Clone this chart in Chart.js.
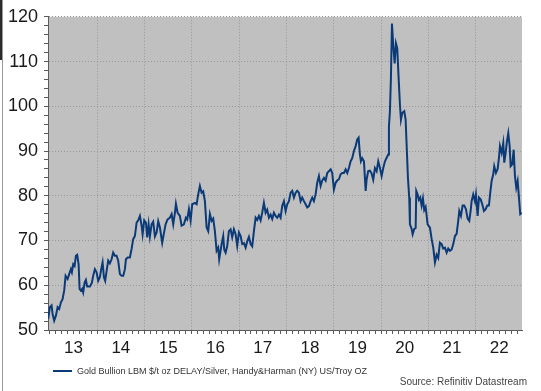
<!DOCTYPE html>
<html>
<head>
<meta charset="utf-8">
<script src="https://cdn.jsdelivr.net/npm/chart.js@4.4.1/dist/chart.umd.min.js"></script>
<style>
  html, body { margin: 0; padding: 0; background: #fff; }
  #wrap { position: relative; width: 541px; height: 391px; overflow: hidden; font-family: Arial, "Liberation Sans", sans-serif; }
  #chart { position: absolute; left: 0; top: 0; }
  .edge1 { position: absolute; left: 0; top: 0; width: 2px; height: 60px; background: #2b2b2b; }
  .edge2 { position: absolute; left: 2px; top: 0; width: 1px; height: 391px; background: #9a9a9a; }
  .legend { position: absolute; left: 53px; top: 365px; font-size: 9px; color: #333; white-space: nowrap; line-height: 12px; }
  .legend i { display: inline-block; width: 19px; height: 2px; background: #0b3a78; vertical-align: middle; margin-right: 5px; position: relative; top: -1px; }
  .source { position: absolute; right: 14px; top: 376px; font-size: 10px; color: #444; white-space: nowrap; line-height: 12px; }
</style>
</head>
<body>
<div id="wrap">
  <canvas id="chart" width="541" height="391"></canvas>
  <div class="edge1"></div>
  <div class="edge2"></div>
  <div class="legend"><i></i>Gold Bullion LBM $/t oz DELAY/Silver, Handy&amp;Harman (NY) US/Troy OZ</div>
  <div class="source">Source: Refinitiv Datastream</div>
</div>
<script>
// gold / silver price ratio, dates as decimal years
const dates = [
  2012.964, 2013.000, 2013.036, 2013.057, 2013.091, 2013.127, 2013.163, 2013.197, 2013.233, 2013.268,
  2013.302, 2013.332, 2013.374, 2013.408, 2013.444, 2013.465, 2013.493, 2013.522, 2013.550, 2013.577,
  2013.607, 2013.628, 2013.655, 2013.683, 2013.704, 2013.734, 2013.761, 2013.789, 2013.846, 2013.888,
  2013.915, 2013.951, 2013.987, 2014.021, 2014.057, 2014.085, 2014.114, 2014.142, 2014.169, 2014.199,
  2014.233, 2014.268, 2014.304, 2014.338, 2014.374, 2014.410, 2014.444, 2014.480, 2014.516, 2014.550,
  2014.586, 2014.607, 2014.643, 2014.691, 2014.727, 2014.761, 2014.797, 2014.833, 2014.867, 2014.903,
  2014.939, 2014.960, 2014.994, 2015.030, 2015.057, 2015.087, 2015.114, 2015.150, 2015.184, 2015.220,
  2015.256, 2015.290, 2015.326, 2015.374, 2015.410, 2015.446, 2015.488, 2015.537, 2015.573, 2015.607,
  2015.643, 2015.664, 2015.700, 2015.748, 2015.784, 2015.833, 2015.875, 2015.903, 2015.939, 2015.975,
  2016.009, 2016.066, 2016.102, 2016.135, 2016.171, 2016.207, 2016.241, 2016.277, 2016.313, 2016.347,
  2016.383, 2016.419, 2016.453, 2016.488, 2016.524, 2016.558, 2016.579, 2016.630, 2016.664, 2016.685,
  2016.715, 2016.748, 2016.784, 2016.820, 2016.854, 2016.890, 2016.926, 2016.960, 2016.996, 2017.032,
  2017.066, 2017.102, 2017.138, 2017.171, 2017.207, 2017.243, 2017.277, 2017.313, 2017.349, 2017.383,
  2017.419, 2017.455, 2017.488, 2017.524, 2017.560, 2017.594, 2017.630, 2017.666, 2017.700, 2017.736,
  2017.772, 2017.806, 2017.842, 2017.877, 2017.911, 2017.947, 2017.983, 2018.017, 2018.053, 2018.089,
  2018.123, 2018.159, 2018.195, 2018.228, 2018.264, 2018.300, 2018.334, 2018.370, 2018.406, 2018.440,
  2018.476, 2018.512, 2018.546, 2018.581, 2018.617, 2018.651, 2018.687, 2018.723, 2018.757, 2018.793,
  2018.829, 2018.863, 2018.899, 2018.935, 2018.968, 2019.004, 2019.040, 2019.074, 2019.110, 2019.146,
  2019.180, 2019.216, 2019.252, 2019.286, 2019.321, 2019.357, 2019.391, 2019.427, 2019.463, 2019.497,
  2019.526, 2019.554, 2019.575, 2019.603, 2019.639, 2019.675, 2019.696, 2019.729, 2019.765, 2019.801,
  2019.835, 2019.871, 2019.907, 2019.941, 2019.977, 2020.013, 2020.047, 2020.083, 2020.119, 2020.152,
  2020.167, 2020.188, 2020.209, 2020.231, 2020.258, 2020.288, 2020.315, 2020.343, 2020.372, 2020.400,
  2020.421, 2020.448, 2020.491, 2020.520, 2020.541, 2020.569, 2020.596, 2020.611, 2020.647, 2020.668,
  2020.702, 2020.732, 2020.745, 2020.774, 2020.801, 2020.829, 2020.858, 2020.886, 2020.913, 2020.943,
  2020.985, 2021.034, 2021.070, 2021.104, 2021.140, 2021.176, 2021.209, 2021.245, 2021.281, 2021.315,
  2021.351, 2021.387, 2021.421, 2021.457, 2021.493, 2021.527, 2021.563, 2021.598, 2021.632, 2021.654,
  2021.689, 2021.725, 2021.759, 2021.795, 2021.831, 2021.865, 2021.894, 2021.915, 2021.949, 2021.985,
  2022.006, 2022.042, 2022.070, 2022.106, 2022.140, 2022.176, 2022.212, 2022.245, 2022.281, 2022.309,
  2022.338, 2022.372, 2022.393, 2022.429, 2022.465, 2022.493, 2022.514, 2022.550, 2022.584, 2022.605,
  2022.634, 2022.662, 2022.690, 2022.719, 2022.740, 2022.774, 2022.804, 2022.831, 2022.859, 2022.888,
  2022.916, 2022.943, 2022.973
];
const ratio = [
  52.5, 55.1, 55.5, 53.6, 52.1, 53.2, 55.1, 54.7, 56.2, 56.9,
  58.8, 62.1, 61.4, 62.5, 63.6, 62.9, 64.7, 64.3, 66.6, 66.8,
  64.7, 59.2, 58.8, 59.2, 58.4, 60.6, 61.2, 59.7, 59.7, 60.6,
  62.1, 63.6, 62.9, 61.0, 61.8, 63.6, 65.1, 61.8, 61.0, 63.2,
  65.5, 64.9, 65.8, 67.3, 66.6, 66.6, 65.5, 62.5, 62.1, 62.1,
  63.6, 65.8, 66.2, 66.2, 68.1, 70.3, 71.0, 74.0, 74.5, 75.5,
  73.3, 71.4, 74.5, 74.0, 70.7, 73.6, 70.9, 73.6, 74.2, 70.9,
  71.8, 74.3, 72.9, 69.5, 71.6, 73.6, 74.7, 75.1, 75.9, 73.6,
  76.2, 78.2, 76.2, 75.5, 73.3, 73.6, 75.1, 74.7, 77.0, 74.5,
  78.1, 78.4, 78.1, 80.3, 82.2, 80.7, 81.0, 78.8, 72.9, 72.1,
  75.9, 74.4, 74.9, 72.1, 67.7, 68.4, 65.8, 69.2, 71.0, 68.0,
  67.3, 68.7, 72.1, 72.5, 70.7, 72.5, 71.4, 68.8, 71.8, 71.0,
  69.2, 69.4, 68.4, 69.8, 70.8, 69.2, 68.7, 72.1, 75.1, 74.6,
  75.5, 74.5, 76.2, 78.4, 76.2, 76.9, 75.1, 75.8, 74.8, 76.2,
  75.5, 75.1, 75.8, 75.1, 77.7, 78.8, 76.6, 78.1, 78.8, 80.7,
  81.1, 79.6, 80.7, 81.1, 80.7, 78.8, 79.6, 78.8, 78.1, 77.4,
  77.7, 78.8, 79.6, 78.8, 80.3, 82.9, 84.4, 82.2, 83.4, 84.0,
  83.4, 85.1, 85.5, 85.9, 85.1, 81.4, 82.9, 83.4, 83.7, 84.8,
  85.1, 85.1, 85.9, 85.1, 86.2, 87.7, 88.4, 90.0, 91.1, 92.6,
  93.0, 89.2, 87.7, 88.4, 87.7, 81.1, 83.7, 85.5, 85.6, 85.0,
  83.6, 86.2, 85.5, 87.7, 86.2, 84.4, 86.2, 87.7, 88.5, 89.2,
  95.5, 98.9, 106.3, 118.5, 113.7, 109.6, 114.1, 113.0, 106.3, 100.3,
  97.0, 98.5, 98.9, 97.0, 91.4, 84.0, 79.6, 73.6, 72.6, 71.4,
  72.6, 72.8, 81.1, 80.3, 79.1, 79.6, 77.8, 79.4, 76.8, 77.5,
  73.6, 72.9, 70.3, 68.4, 65.1, 66.8, 66.1, 69.5, 69.2, 68.2,
  68.4, 67.3, 68.2, 67.7, 68.0, 69.2, 71.0, 71.5, 74.4, 76.6,
  75.5, 77.8, 77.8, 77.0, 74.9, 74.4, 76.6, 78.8, 80.3, 78.8,
  80.3, 75.5, 79.6, 79.2, 78.1, 76.6, 77.0, 77.8, 77.8, 80.7,
  83.3, 84.8, 86.6, 85.1, 86.0, 88.5, 91.1, 89.6, 91.8, 87.4,
  89.6, 92.2, 94.0, 91.1, 86.6, 87.0, 90.3, 84.4, 81.8, 83.3,
  79.6, 75.9, 76.2
];
const years = [2013, 2014, 2015, 2016, 2017, 2018, 2019, 2020, 2021, 2022];
const yMin = 50, yMax = 120;

const FONT = 'Arial, "Liberation Sans", sans-serif';
const GRID = '#989898';
const AXIS = '#5a5a5a';
const NAVY = '#0b3a78';

const plotBg = {
  id: 'plotBg',
  beforeDraw(chart) {
    const a = chart.chartArea, ctx = chart.ctx;
    ctx.save();
    ctx.fillStyle = '#c0c0c0';
    ctx.fillRect(a.left, a.top, a.right - a.left, a.bottom - a.top);
    ctx.restore();
  }
};

new Chart(document.getElementById('chart'), {
  type: 'line',
  data: {
    datasets: [{
      label: 'Gold Bullion LBM $/t oz DELAY/Silver, Handy&Harman (NY) US/Troy OZ',
      data: dates.map((d, i) => ({ x: d, y: ratio[i] })),
      borderColor: NAVY,
      borderWidth: 2,
      pointRadius: 0,
      tension: 0,
      fill: false
    }]
  },
  options: {
    responsive: false,
    animation: false,
    events: [],
    layout: { padding: { left: 0, top: 15, right: 19, bottom: 30 } },
    plugins: { legend: { display: false }, tooltip: { enabled: false } },
    scales: {
      x: {
        type: 'linear',
        min: 2012.96,
        max: 2022.98,
        afterBuildTicks(s) {
          const t = [];
          years.forEach(y => { for (let k = 0; k < 8; k++) t.push({ value: y + k / 8 }); });
          s.ticks = t;
        },
        afterFit(s) { s.height = 31; },
        ticks: {
          autoSkip: false,
          maxRotation: 0,
          padding: 4,
          color: '#1a1a1a',
          font: { family: FONT, size: 17 },
          callback(v) {
            const f = v - Math.floor(v);
            return Math.abs(f - 0.5) < 1e-6 ? String(Math.floor(v) % 100) : '';
          }
        },
        grid: {
          tickLength: 4,
          tickColor: AXIS,
          color(c) {
            const v = c.tick && c.tick.value;
            return (v !== undefined && Number.isInteger(v) && v > 2013) ? GRID : 'rgba(0,0,0,0)';
          }
        },
        border: { color: AXIS, width: 1, dash: [1, 2] }
      },
      y: {
        min: yMin,
        max: yMax,
        afterBuildTicks(s) {
          const t = [];
          for (let v = yMin; v <= yMax; v += 2) t.push({ value: v });
          s.ticks = t;
        },
        afterFit(s) { s.width = 48; },
        ticks: {
          autoSkip: false,
          padding: 6,
          color: '#1a1a1a',
          font: { family: FONT, size: 18 },
          callback(v) { return v % 10 === 0 ? String(v) : ''; }
        },
        grid: {
          tickLength: 4,
          tickColor: AXIS,
          color(c) {
            const v = c.tick && c.tick.value;
            return (v !== undefined && v % 10 === 0 && v > yMin) ? GRID : 'rgba(0,0,0,0)';
          }
        },
        border: { color: AXIS, width: 1, dash: [1, 2] }
      }
    }
  },
  plugins: [plotBg]
});
</script>
</body>
</html>
